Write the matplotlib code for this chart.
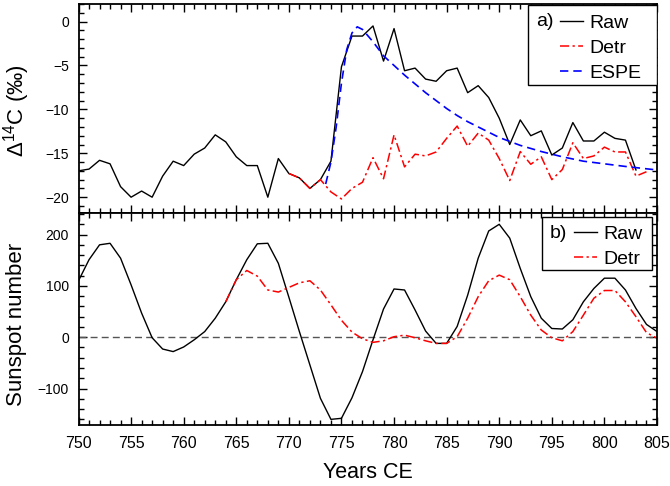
import numpy as np
import matplotlib.pyplot as plt
from matplotlib.ticker import MultipleLocator
from matplotlib.patches import Rectangle

plt.rcParams['font.family'] = ['Liberation Sans', 'DejaVu Sans']
plt.rcParams['mathtext.fontset'] = 'custom'
plt.rcParams['mathtext.rm'] = 'Liberation Sans'

# a) radiocarbon, yearly
c14_years = np.arange(750, 804)
c14_raw = [-17.0, -16.8, -15.8, -16.2, -18.8, -20.0, -19.3, -20.0, -17.6, -15.9,
           -16.4, -15.1, -14.4, -12.9, -13.7, -15.4, -16.4, -16.4, -20.0, -15.6,
           -17.3, -17.8, -19.0, -18.0, -15.9, -5.15, -1.65, -1.65, -0.5, -4.5,
           -0.8, -5.6, -5.3, -6.55, -6.8, -5.6, -5.3, -8.1, -7.3, -8.65,
           -11.0, -14.0, -11.2, -13.0, -12.45, -15.2, -14.4, -11.5, -13.6, -13.6,
           -12.6, -13.3, -13.5, -16.9]

detr_years = np.arange(770, 805)
c14_detr = [-17.3, -17.8, -19.0, -18.0, -19.4, -20.2, -19.0, -18.3, -15.5, -17.9,
            -12.9, -16.55, -15.1, -15.3, -14.85, -13.3, -11.9, -14.2, -12.7, -13.5,
            -15.6, -18.1, -14.8, -16.25, -15.4, -18.0, -16.85, -13.8, -15.6, -15.3,
            -14.3, -14.85, -14.85, -17.6, -17.1]

espe_years = [773.5, 774, 774.5, 775, 775.5, 776, 776.5, 777, 778, 779, 780, 781,
              782, 783, 784, 785, 786, 787, 788, 789, 790, 792, 794, 796, 798,
              800, 802, 805]
espe = [-18.5, -16.0, -12.0, -7.0, -3.2, -1.3, -0.6, -0.9, -2.3, -3.9, -5.0, -6.1,
        -7.1, -8.1, -9.0, -9.9, -10.7, -11.4, -12.0, -12.6, -13.2, -14.1, -14.8,
        -15.4, -15.9, -16.2, -16.5, -16.9]

# b) sunspot number, yearly
ssn_years = np.arange(750, 806)
ssn_raw = [110, 151, 180, 183, 154, 102, 47, -1, -23, -28,
           -19, -5, 11, 37, 69, 112, 151, 182, 183, 144,
           78, 11, -54, -119, -160, -158, -118, -67, -5, 55,
           94, 92, 53, 12, -12, -12, 21, 82, 154, 207,
           220, 193, 134, 79, 37, 17, 16, 34, 69, 95,
           115, 115, 92, 56, 25, 11]

ssn_detr_years = np.arange(764, 806)
ssn_detr = [69, 112, 130, 119, 92, 88, 97, 106, 110, 92,
            63, 33, 10, -3, -10, -7, 1, 4, -1, -7,
            -12, -12, 1, 37, 79, 110, 121, 112, 79, 43,
            14, -1, -7, 11, 43, 76, 91, 91, 69, 40,
            9, -2]

W, H = 670, 486
fig = plt.figure(figsize=(W / 100, H / 100), dpi=100)
left, right = 78.5, 657
ax1 = fig.add_axes([left / W, 1 - 213 / H, (right - left) / W, 209 / H])
ax2 = fig.add_axes([left / W, 1 - 425 / H, (right - left) / W, 212 / H])

red_dd = (0, (6, 2.2, 1.5, 2.2))
blue_d = (0, (5, 3))

ax1.plot(c14_years, c14_raw, color='k', lw=1.0, label='Raw')
ax1.plot(detr_years, c14_detr, color='red', lw=1.1, ls=red_dd, label='Detr')
ax1.plot(espe_years, espe, color='blue', lw=1.2, ls=blue_d, label='ESPE')
ax1.set_ylim(-21.8, 2.0)
ax1.yaxis.set_major_locator(MultipleLocator(5))
ax1.yaxis.set_minor_locator(MultipleLocator(1))
ax1.set_ylabel('Δ$^{14}$C (‰)', fontsize=16)

ax2.axhline(0, color='#555555', lw=1.0, ls=(0, (5, 3)))
ax2.plot(ssn_years, ssn_raw, color='k', lw=1.0, label='Raw')
ax2.plot(ssn_detr_years, ssn_detr, color='red', lw=1.1, ls=red_dd, label='Detr')
ax2.set_ylim(-171, 242)
ax2.yaxis.set_major_locator(MultipleLocator(100))
ax2.yaxis.set_minor_locator(MultipleLocator(20))
ax2.set_ylabel('Sunspot number', fontsize=16)
ax2.set_xlabel('Years CE', fontsize=15.5, labelpad=8)

for ax in (ax1, ax2):
    ax.set_xlim(750, 805)
    ax.xaxis.set_major_locator(MultipleLocator(5))
    ax.xaxis.set_minor_locator(MultipleLocator(1))
    ax.tick_params(which='both', direction='in', top=True, right=True, width=1.0)
    ax.tick_params(which='major', length=6)
    ax.tick_params(which='minor', length=3.5)
    ax.tick_params(axis='y', labelsize=10, pad=7)
    ax.tick_params(axis='x', labelsize=11.5, pad=8)
    for s in ax.spines.values():
        s.set_linewidth(1.3)
    ax.yaxis.label.set_va('center')
ax1.tick_params(axis='x', labelbottom=False)
ax1.yaxis.set_label_coords((16.5 - left) / (right - left), 0.49)
ax2.yaxis.set_label_coords((16.5 - left) / (right - left), 0.476)


def px(x, y, top, h):
    return ((x - left) / (right - left), 1 - (y - top) / h)


leg_kw = dict(loc='upper left', frameon=False, fontsize=14, handlelength=1.2,
              handletextpad=0.3, labelspacing=0.39, borderpad=0, borderaxespad=0)

# legend a)
x0, y0 = px(527.7, 85, 4, 209)
x1, y1 = px(657, 5, 4, 209)
ax1.add_patch(Rectangle((x0, y0), x1 - x0, y1 - y0, transform=ax1.transAxes,
                        fc='white', ec='k', lw=1.0, zorder=4))
ax1.legend(bbox_to_anchor=px(560, 14, 4, 209), **leg_kw).set_zorder(5)
ax1.text(*px(536, 22, 4, 209), 'a)', transform=ax1.transAxes, fontsize=14,
         va='center', ha='left', zorder=6)

# legend b)
x0, y0 = px(541.7, 270, 213, 212)
x1, y1 = px(651.7, 216.7, 213, 212)
ax2.add_patch(Rectangle((x0, y0), x1 - x0, y1 - y0, transform=ax2.transAxes,
                        fc='white', ec='k', lw=1.0, zorder=4))
ax2.legend(bbox_to_anchor=px(574, 225.2, 213, 212), **leg_kw).set_zorder(5)
ax2.text(*px(550, 233, 213, 212), 'b)', transform=ax2.transAxes, fontsize=14,
         va='center', ha='left', zorder=6)

fig.savefig('out.png', dpi=100)
